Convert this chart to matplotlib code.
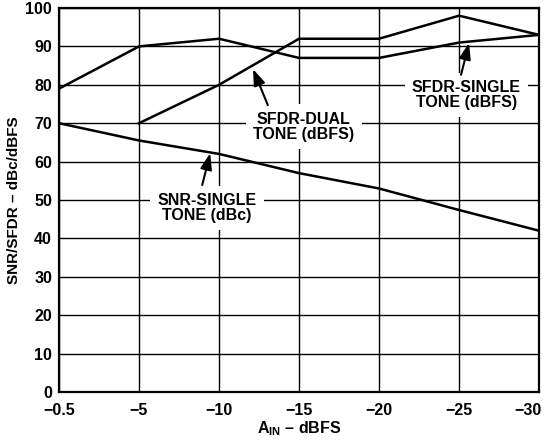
import matplotlib
matplotlib.use("Agg")
import matplotlib.pyplot as plt
import matplotlib.transforms as mtransforms
import numpy as np

plt.rcParams['font.family'] = ['Liberation Sans', 'DejaVu Sans']
plt.rcParams['font.weight'] = 'bold'
plt.rcParams['axes.labelweight'] = 'bold'
plt.rcParams['mathtext.fontset'] = 'custom'
plt.rcParams['mathtext.bf'] = 'Liberation Sans:bold'
plt.rcParams['mathtext.rm'] = 'Liberation Sans:bold'

# input amplitude (dBFS), equally spaced on the chart
x_labels = ['\u22120.5', '\u22125', '\u221210', '\u221215', '\u221220', '\u221225', '\u221230']
sfdr_single = [79, 90, 92, 87, 87, 91, 93]
sfdr_dual = [np.nan, 70, 80, 92, 92, 98, 93]
snr_single = [70, 65.5, 62, 57, 53, 47.4, 42]

x = np.arange(len(x_labels))

fig = plt.figure(figsize=(5.44, 4.42), dpi=100)
ax = fig.add_axes([0.1085, 0.1131, 0.8824, 0.8688])

ax.plot(x, sfdr_single, color='black', lw=1.8, zorder=3)
ax.plot(x, sfdr_dual, color='black', lw=1.8, zorder=3)
ax.plot(x, snr_single, color='black', lw=1.8, zorder=3)

ax.set_xlim(0, 6)
ax.set_ylim(0, 100)
ax.set_xticks(x)
ax.set_xticklabels(x_labels)
ax.set_yticks(np.arange(0, 101, 10))
ax.tick_params(length=0, labelsize=11.5)
ax.tick_params(axis='x', pad=8)
ax.tick_params(axis='y', pad=5)
ax.grid(True, color='black', lw=1.0)
ax.set_axisbelow(True)
for s in ax.spines.values():
    s.set_linewidth(1.6)

# last tick label sits flush at the right edge
last = ax.get_xticklabels()[-1]
last.set_horizontalalignment('right')
last.set_transform(last.get_transform() +
                   mtransforms.ScaledTranslation(2 / 72, 0, fig.dpi_scale_trans))

ax.set_xlabel(r'$\mathbf{A_{IN}}$' + ' \u2013 dBFS', fontsize=11.5, labelpad=1)
ax.set_ylabel('SNR/SFDR \u2013 dBc/dBFS', fontsize=11, labelpad=3)

box = dict(boxstyle='square,pad=0.45', facecolor='white', edgecolor='none')
labels = [
    ('SNR-SINGLE\nTONE (dBc)', (1.85, 47.9), (1.79, 53.9), (1.89, 62.2)),
    ('SFDR-DUAL\nTONE (dBFS)', (3.06, 69.1), (2.61, 74.7), (2.425, 84.1)),
    ('SFDR-SINGLE\nTONE (dBFS)', (5.09, 77.3), (5.025, 82.6), (5.125, 90.9)),
]
for txt, pos, tail, tip in labels:
    ax.text(pos[0], pos[1], txt, ha='center', va='center', fontsize=11.5,
            fontweight='bold', linespacing=1.0, bbox=box, zorder=4)
    ax.annotate('', xy=tip, xytext=tail,
                arrowprops=dict(arrowstyle='-|>,head_length=0.7,head_width=0.25',
                                color='black', lw=1.5, mutation_scale=14,
                                shrinkA=0, shrinkB=0), zorder=5)

fig.savefig('out.png', dpi=100)
